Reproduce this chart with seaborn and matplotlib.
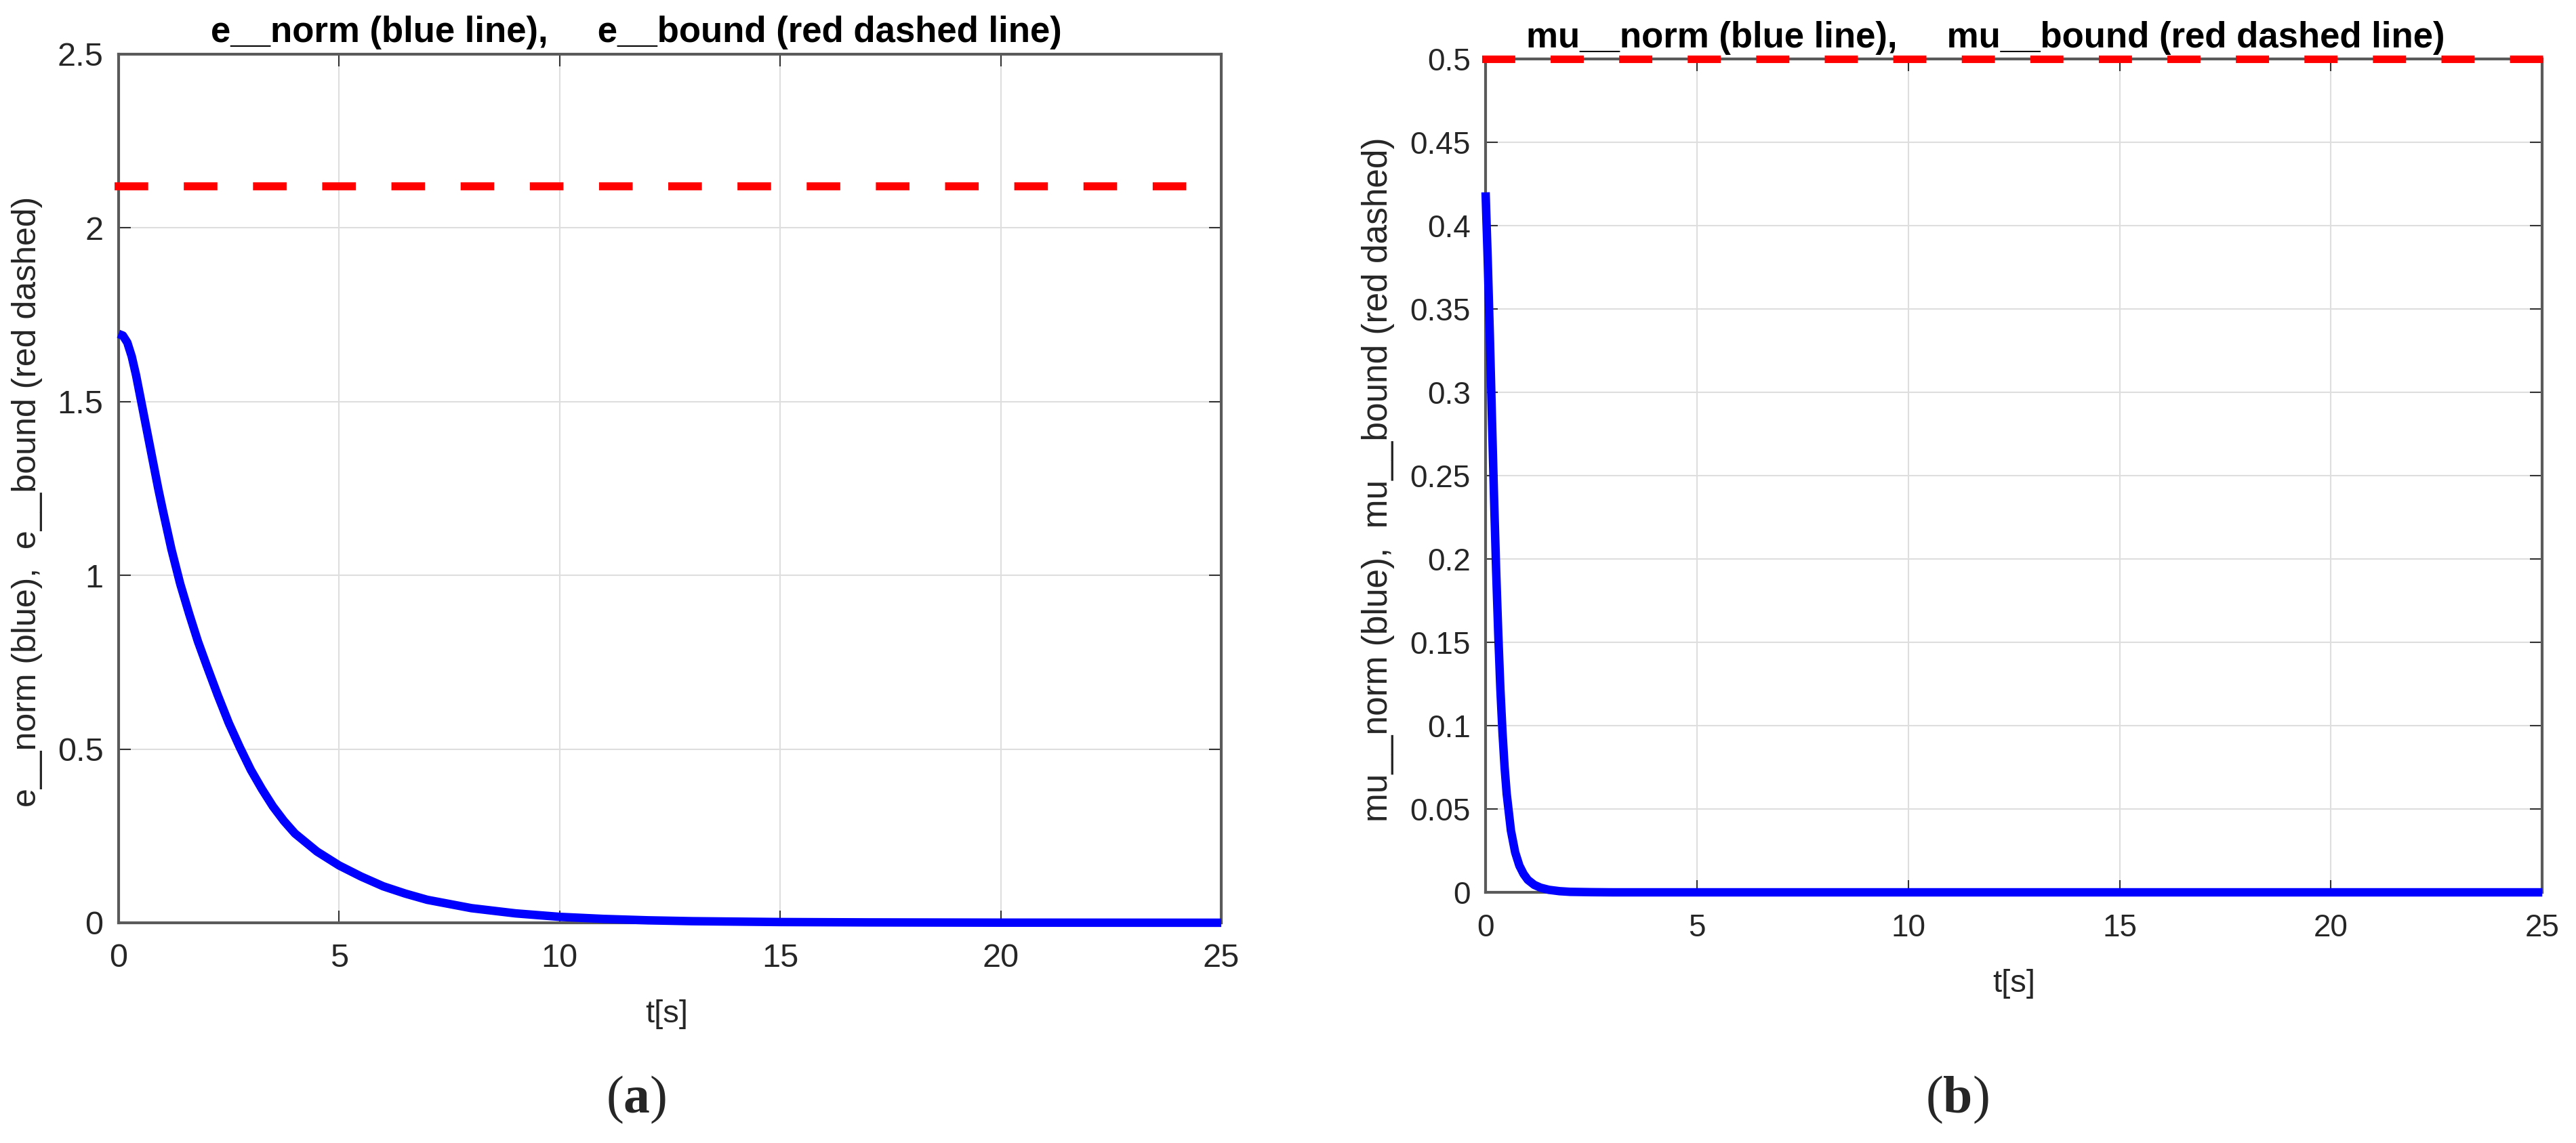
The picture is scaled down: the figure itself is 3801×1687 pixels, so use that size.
import matplotlib
matplotlib.use("Agg")
import matplotlib.pyplot as plt
import seaborn as sns

# values
t_e = [0, 0.1, 0.2, 0.3, 0.4, 0.5, 0.6, 0.7, 0.8, 0.9, 1.0, 1.2, 1.4, 1.6, 1.8,
       2.0, 2.25, 2.5, 2.75, 3.0, 3.25, 3.5, 3.75, 4.0, 4.5, 5.0, 5.5, 6.0, 6.5,
       7.0, 8.0, 9.0, 10, 11, 12, 13, 15, 17, 20, 25]
e_norm = [1.695, 1.69, 1.67, 1.63, 1.575, 1.51, 1.445, 1.38, 1.315, 1.25, 1.19,
          1.075, 0.975, 0.89, 0.81, 0.74, 0.655, 0.575, 0.505, 0.44, 0.385, 0.335,
          0.293, 0.257, 0.205, 0.165, 0.133, 0.105, 0.084, 0.066, 0.042, 0.027,
          0.017, 0.011, 0.007, 0.0045, 0.002, 0.001, 0.0003, 0.0]
t_bound = [0, 25]
e_bound = [2.12, 2.12]

t_mu = [0, 0.05, 0.1, 0.15, 0.2, 0.25, 0.3, 0.35, 0.4, 0.45, 0.5, 0.6, 0.7, 0.8,
        0.9, 1.0, 1.15, 1.3, 1.5, 1.75, 2.0, 2.5, 3, 5, 25]
mu_norm = [0.42, 0.38, 0.335, 0.285, 0.237, 0.193, 0.155, 0.122, 0.096, 0.075,
           0.059, 0.037, 0.024, 0.016, 0.011, 0.0075, 0.0045, 0.0028, 0.0015,
           0.0007, 0.0003, 0.0001, 0, 0, 0]
mu_bound = [0.5, 0.5]

x_ticks = [0, 5, 10, 15, 20, 25]
e_ticks = [0, 0.5, 1, 1.5, 2, 2.5]
e_ticklabels = ["0", "0.5", "1", "1.5", "2", "2.5"]
mu_ticks = [0, 0.05, 0.1, 0.15, 0.2, 0.25, 0.3, 0.35, 0.4, 0.45, 0.5]
mu_ticklabels = ["0", "0.05", "0.1", "0.15", "0.2", "0.25", "0.3", "0.35", "0.4", "0.45", "0.5"]

sns.set_theme(style="white")
plt.rcParams["font.family"] = ["Liberation Sans", "DejaVu Sans"]
plt.rcParams["mathtext.fontset"] = "custom"
plt.rcParams["mathtext.rm"] = "Liberation Serif"
plt.rcParams["mathtext.bf"] = "Liberation Serif:bold"

BLUE = "#0000ff"
RED = "#ff0000"
SPINE = "#5a5a5a"
GRID = "#dedede"

fig = plt.figure(figsize=(38.01, 16.87), dpi=100)
ax_a = fig.add_axes([0.0460, 0.1927, 0.4281, 0.7599])
ax_b = fig.add_axes([0.5767, 0.2193, 0.4102, 0.7291])


def style_axes(ax, yticks, yticklabels, ylim, tick_fs):
    ax.set_xlim(0, 25)
    ax.set_ylim(*ylim)
    ax.set_xticks(x_ticks)
    ax.set_xticklabels([str(v) for v in x_ticks])
    ax.set_yticks(yticks)
    ax.set_yticklabels(yticklabels)
    ax.grid(True, color=GRID, linewidth=1.5)
    ax.set_axisbelow(True)
    for s in ax.spines.values():
        s.set_color(SPINE)
        s.set_linewidth(3)
        s.set_visible(True)
    ax.tick_params(axis="both", which="major", direction="in", length=13, width=1.5,
                   color="#333333", labelcolor="#262626", labelsize=tick_fs,
                   top=True, right=True, bottom=True, left=True)
    ax.tick_params(axis="x", pad=22)
    ax.tick_params(axis="y", pad=16)


# panel (a)
sns.lineplot(x=t_e, y=e_norm, ax=ax_a, color=BLUE, linewidth=9, clip_on=False,
             solid_capstyle="butt", solid_joinstyle="round", zorder=5)
sns.lineplot(x=t_bound, y=e_bound, ax=ax_a, color=RED, linewidth=8.5, clip_on=False, zorder=6)
ax_a.lines[-1].set_dashes([3.2, 5.45])
ax_a.lines[-1].set_dash_capstyle("projecting")
style_axes(ax_a, e_ticks, e_ticklabels, (0, 2.5), 35)
ax_a.set_title("e__norm (blue line),     e__bound (red dashed line)", fontsize=38,
               fontweight="bold", x=0.4696, pad=13, color="black")
ax_a.set_xlabel("t[s]", fontsize=34, color="#262626")
ax_a.set_ylabel("e__norm (blue),  e__bound (red dashed)", fontsize=36, color="#262626")
ax_a.xaxis.set_label_coords(0.497, -0.088)
ax_a.yaxis.set_label_coords(-0.069, 0.485)

# panel (b)
sns.lineplot(x=t_mu, y=mu_norm, ax=ax_b, color=BLUE, linewidth=9, clip_on=False,
             solid_capstyle="butt", solid_joinstyle="round", zorder=5)
sns.lineplot(x=t_bound, y=mu_bound, ax=ax_b, color=RED, linewidth=8, clip_on=False, zorder=6)
ax_b.lines[-1].set_dashes([3.4, 5.7])
ax_b.lines[-1].set_dash_capstyle("projecting")
style_axes(ax_b, mu_ticks, mu_ticklabels, (0, 0.5), 33)
ax_b.set_title("mu__norm (blue line),     mu__bound (red dashed line)", fontsize=38,
               fontweight="bold", x=0.4734, pad=12, color="black")
ax_b.set_xlabel("t[s]", fontsize=34, color="#262626")
ax_b.set_ylabel("mu__norm (blue),  mu__bound (red dashed)", fontsize=37, color="#262626")
ax_b.xaxis.set_label_coords(0.5, -0.092)
ax_b.yaxis.set_label_coords(-0.086, 0.495)

fig.text(939 / 3801, 1 - 1623 / 1687, r"($\mathbf{a}$)", fontsize=56,
         family="Liberation Serif", ha="center", va="center")
fig.text(2888 / 3801, 1 - 1623 / 1687, r"($\mathbf{b}$)", fontsize=56,
         family="Liberation Serif", ha="center", va="center")

fig.savefig("out.png", dpi=100, facecolor="white")
